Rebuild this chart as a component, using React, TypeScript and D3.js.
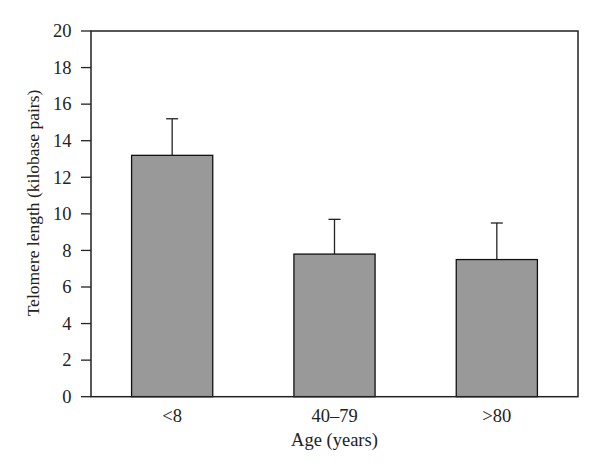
import React from "react";
import * as d3 from "d3";

const categories = ["<8", "40–79", ">80"];
const means = [13.2, 7.8, 7.5];
const errorTops = [15.2, 9.7, 9.5];
const yTicks = [0, 2, 4, 6, 8, 10, 12, 14, 16, 18, 20];

const W = 600;
const H = 474;
const left = 91;
const right = 578;
const top = 31;
const bottom = 396.7;
const font = "Liberation Serif, DejaVu Serif, serif";
const ts: React.CSSProperties = { fontFamily: font, fontSize: "18.5px" };
const ys: React.CSSProperties = { fontFamily: font, fontSize: "17.5px" };

export default function App() {
  const x = d3.scaleBand<string>().domain(categories).range([left, right]).paddingInner(0.5).paddingOuter(0.25);
  const y = d3.scaleLinear().domain([0, 20]).range([bottom, top]);
  const bw = x.bandwidth();
  return (
    <svg width={W} height={H} style={{ position: "absolute", left: 0, top: 0, background: "#fff" }}>
      {categories.map((c, i) => {
        const x0 = x(c)!;
        const cx = x0 + bw / 2;
        return (
          <g key={c}>
            <line x1={cx} x2={cx} y1={y(means[i])} y2={y(errorTops[i])} stroke="#222" strokeWidth={1.3} />
            <line x1={cx - 6} x2={cx + 6} y1={y(errorTops[i])} y2={y(errorTops[i])} stroke="#222" strokeWidth={1.3} />
            <rect x={x0} y={y(means[i])} width={bw} height={bottom - y(means[i])} fill="#999999" stroke="#111" strokeWidth={1.3} />
            <text x={cx} y={421.5} textAnchor="middle" style={ts} fill="#222">{c}</text>
          </g>
        );
      })}
      <rect x={left} y={top} width={right - left} height={bottom - top} fill="none" stroke="#222" strokeWidth={1.5} />
      {yTicks.map((t) => (
        <g key={t}>
          <line x1={left - 10} x2={left} y1={y(t)} y2={y(t)} stroke="#222" strokeWidth={1.3} />
          <text x={71.5} y={y(t)} dy="0.34em" textAnchor="end" style={ts} fill="#222">{t}</text>
        </g>
      ))}
      <text x={(left + right) / 2} y={446} textAnchor="middle" style={ts} fill="#222">Age (years)</text>
      <text transform={`translate(39,203) rotate(-90)`} textAnchor="middle" style={ys} fill="#222">Telomere length (kilobase pairs)</text>
    </svg>
  );
}
